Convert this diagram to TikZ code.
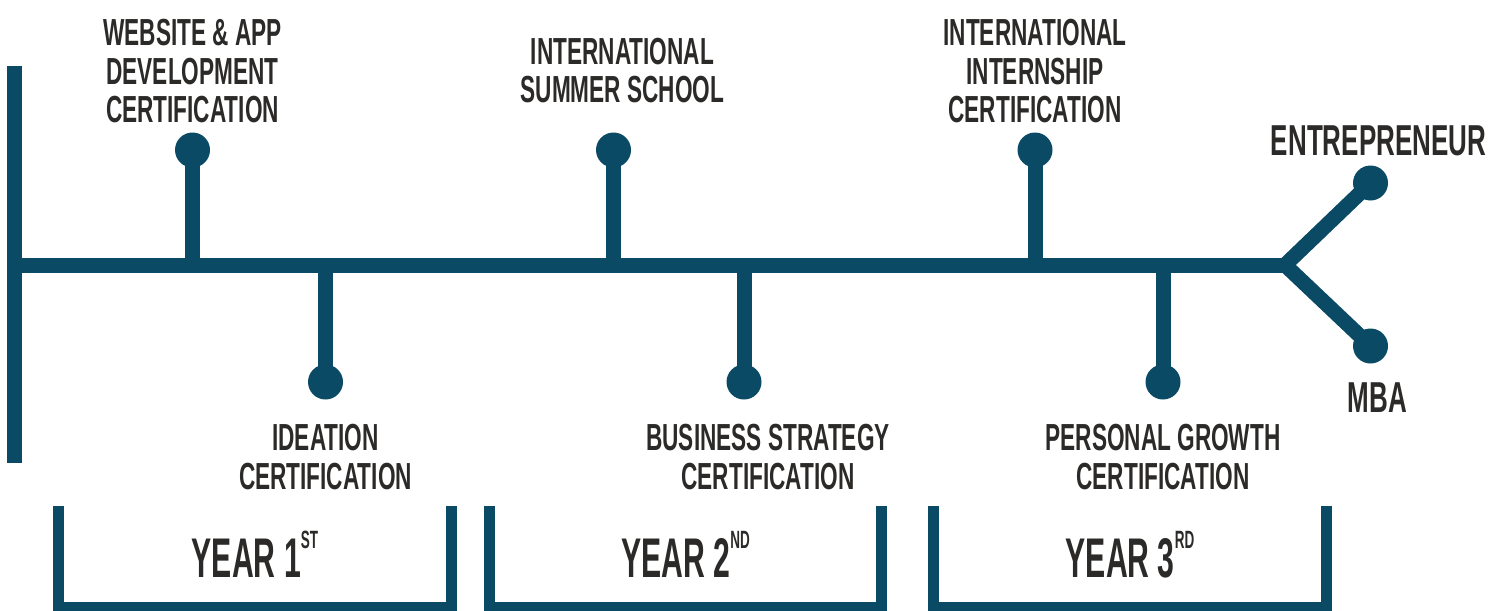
\documentclass[tikz,border=0pt]{standalone}
\usepackage{fontspec}
\usepackage{tikz}
\usetikzlibrary{positioning}
\newfontfamily\condfont[FakeStretch=0.6]{Liberation Sans}
\newfontfamily\yearfont[FakeStretch=0.54]{Liberation Sans}
\definecolor{deepteal}{HTML}{0A4A64}
\definecolor{inkgrey}{HTML}{2B2A28}
\newcommand{\lblfont}{\condfont\bfseries\fontsize{37.7}{38.5}\selectfont}
\newcommand{\goalfont}{\condfont\bfseries\fontsize{43.3}{44}\selectfont}
\newcommand{\yrfont}{\yearfont\bfseries\fontsize{55.9}{56}\selectfont}
\newcommand{\ord}[1]{\raisebox{29pt}{\fontsize{25}{25}\selectfont #1}}

\begin{document}
\begin{tikzpicture}[x=1pt,y=-1pt,
  bar/.style={draw=deepteal,line width=15pt},
  brack/.style={draw=deepteal,line width=11pt},
  dot/.style={circle,fill=deepteal,minimum size=35pt,inner sep=0pt},
  lbl/.style={text=inkgrey,align=center,inner sep=0pt,font=\lblfont},
  yr/.style={text=inkgrey,inner sep=0pt,font=\yrfont,anchor=base}]
  \useasboundingbox (0,0) rectangle (1503,610);
  % main line
  \coordinate (lt) at (14.5,66);
  \coordinate (lb) at (14.5,463);
  \coordinate (fork) at (1285,265);
  % milestones
  \node[dot] (wd) at (192.5,150) {};
  \node[dot] (id) at (325.5,382) {};
  \node[dot] (sd) at (613.5,150) {};
  \node[dot] (bd) at (744,382) {};
  \node[dot] (nd) at (1035,150) {};
  \node[dot] (pd) at (1163,382) {};
  \node[dot] (ed) at (1370.5,183) {};
  \node[dot] (md) at (1370.5,346) {};
  \draw[bar] (lt) -- (lb);
  \draw[bar] (lt |- fork) -- (fork);
  \draw[bar,line join=miter] (ed.center) -- (fork) -- (md.center);
  \draw[bar] (wd.center) -- (wd |- fork);
  \draw[bar] (id.center) -- (id |- fork);
  \draw[bar] (sd.center) -- (sd |- fork);
  \draw[bar] (bd.center) -- (bd |- fork);
  \draw[bar] (nd.center) -- (nd |- fork);
  \draw[bar] (pd.center) -- (pd |- fork);
  % labels
  \node[lbl,above=9pt of wd] (wl) {WEBSITE \& APP\\DEVELOPMENT\\CERTIFICATION};
  \node[lbl,below=24.5pt of id] (il) {IDEATION\\CERTIFICATION};
  \node[lbl,above=29pt of sd,xshift=9pt] (sl) {INTERNATIONAL\\SUMMER SCHOOL};
  \node[lbl,below=24.5pt of bd,xshift=24pt] (bl) {BUSINESS STRATEGY\\CERTIFICATION};
  \node[lbl,above=9pt of nd] (nl) {INTERNATIONAL\\INTERNSHIP\\CERTIFICATION};
  \node[lbl,below=24.5pt of pd] (pl) {PERSONAL GROWTH\\CERTIFICATION};
  \node[lbl,font=\goalfont,above=9pt of ed,xshift=8pt] (el) {ENTREPRENEUR};
  \node[lbl,font=\goalfont,below=18.5pt of md,xshift=7pt] (ml) {MBA};
  % years
  \draw[brack] (58.5,506) -- (58.5,607) -- (451.5,607) -- (451.5,506);
  \draw[brack] (489.5,506) -- (489.5,607) -- (881.5,607) -- (881.5,506);
  \draw[brack] (933,506) -- (933,607) -- (1326.5,607) -- (1326.5,506);
  \node[yr] (y1) at (255,577) {YEAR 1\ord{ST}};
  \node[yr] (y2) at (685.5,577) {YEAR 2\ord{ND}};
  \node[yr] (y3) at (1130,577) {YEAR 3\ord{RD}};
\end{tikzpicture}
\end{document}
